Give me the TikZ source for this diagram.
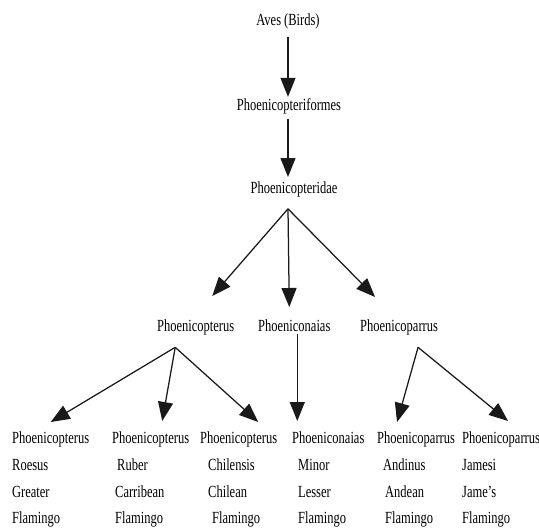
\documentclass[tikz,border=0pt]{standalone}
\usepackage{fontspec}
\setmainfont{Liberation Serif}[FakeStretch=0.735]
\usetikzlibrary{arrows.meta}
\begin{document}
\begin{tikzpicture}[x=1pt,y=-1pt,
  lbl/.style={inner sep=0pt, font=\fontsize{17}{20}\selectfont},
  arr/.style={-{Triangle[length=19pt,width=15pt]}, line width=1.25pt, draw=black!90}]
\useasboundingbox[fill=white] (0,0) rectangle (539,530);
% upper levels
\node[lbl,anchor=base] (aves) at (288,25) {Aves (Birds)};
\node[lbl,anchor=base] (order) at (289,110) {Phoenicopteriformes};
\node[lbl,anchor=base] (family) at (294,193) {Phoenicopteridae};
% genera
\node[lbl,anchor=base west] (g1) at (157,331) {Phoenicopterus};
\node[lbl,anchor=base west] (g2) at (258,331) {Phoeniconaias};
\node[lbl,anchor=base west] (g3) at (360,331) {Phoenicoparrus};
% species columns
\node[lbl,anchor=base west] (s1) at (12,443) {Phoenicopterus};
\node[lbl,anchor=base west] (s1b) at (12,470) {Roesus};
\node[lbl,anchor=base west] (s1c) at (12,497) {Greater};
\node[lbl,anchor=base west] (s1d) at (12,523) {Flamingo};
\node[lbl,anchor=base west] (s2) at (112,443) {Phoenicopterus};
\node[lbl,anchor=base west] (s2b) at (117,470) {Ruber};
\node[lbl,anchor=base west] (s2c) at (115,497) {Carribean};
\node[lbl,anchor=base west] (s2d) at (115,523) {Flamingo};
\node[lbl,anchor=base west] (s3) at (200,443) {Phoenicopterus};
\node[lbl,anchor=base west] (s3b) at (208,470) {Chilensis};
\node[lbl,anchor=base west] (s3c) at (208,497) {Chilean};
\node[lbl,anchor=base west] (s3d) at (212,523) {Flamingo};
\node[lbl,anchor=base west] (s4) at (292,443) {Phoeniconaias};
\node[lbl,anchor=base west] (s4b) at (298,470) {Minor};
\node[lbl,anchor=base west] (s4c) at (298,497) {Lesser};
\node[lbl,anchor=base west] (s4d) at (298,523) {Flamingo};
\node[lbl,anchor=base west] (s5) at (377,443) {Phoenicoparrus};
\node[lbl,anchor=base west] (s5b) at (383,470) {Andinus};
\node[lbl,anchor=base west] (s5c) at (385,497) {Andean};
\node[lbl,anchor=base west] (s5d) at (385,523) {Flamingo};
\node[lbl,anchor=base west] (s6) at (462,443) {Phoenicoparrus};
\node[lbl,anchor=base west] (s6b) at (462,470) {Jamesi};
\node[lbl,anchor=base west] (s6c) at (462,497) {Jame’s};
\node[lbl,anchor=base west] (s6d) at (462,523) {Flamingo};
% connectors
\draw[arr] ([yshift=-8pt]aves.south) -- ([xshift=-1pt,yshift=1pt]order.north);
\draw[arr] ([xshift=-1pt,yshift=-5pt]order.south) -- ([xshift=-6pt,yshift=4pt]family.north);
\coordinate (fb) at ([xshift=-6pt,yshift=-12pt]family.south);
\draw[arr] (fb) -- ([xshift=16.5pt,yshift=23pt]g1.north);
\draw[arr] (fb) -- ([xshift=-5pt,yshift=12pt]g2.north);
\draw[arr] (fb) -- ([xshift=-24pt,yshift=22pt]g3.north);
\coordinate (b1) at ([xshift=-20.5pt,yshift=-12.5pt]g1.south);
\draw[arr] (b1) -- ([yshift=9pt]s1.north);
\draw[arr] (b1) -- ([xshift=11.5pt,yshift=10pt]s2.north);
\draw[arr] (b1) -- ([xshift=19.5pt,yshift=9pt]s3.north);
\draw[arr] ([xshift=3pt,yshift=-3pt]g2.south) -- ([xshift=-31pt,yshift=10pt]s4.north);
\coordinate (b3) at ([xshift=19pt,yshift=-12.5pt]g3.south);
\draw[arr] (b3) -- ([xshift=-19pt,yshift=9pt]s5.north);
\draw[arr] (b3) -- ([xshift=7pt,yshift=10pt]s6.north);
\end{tikzpicture}
\end{document}
